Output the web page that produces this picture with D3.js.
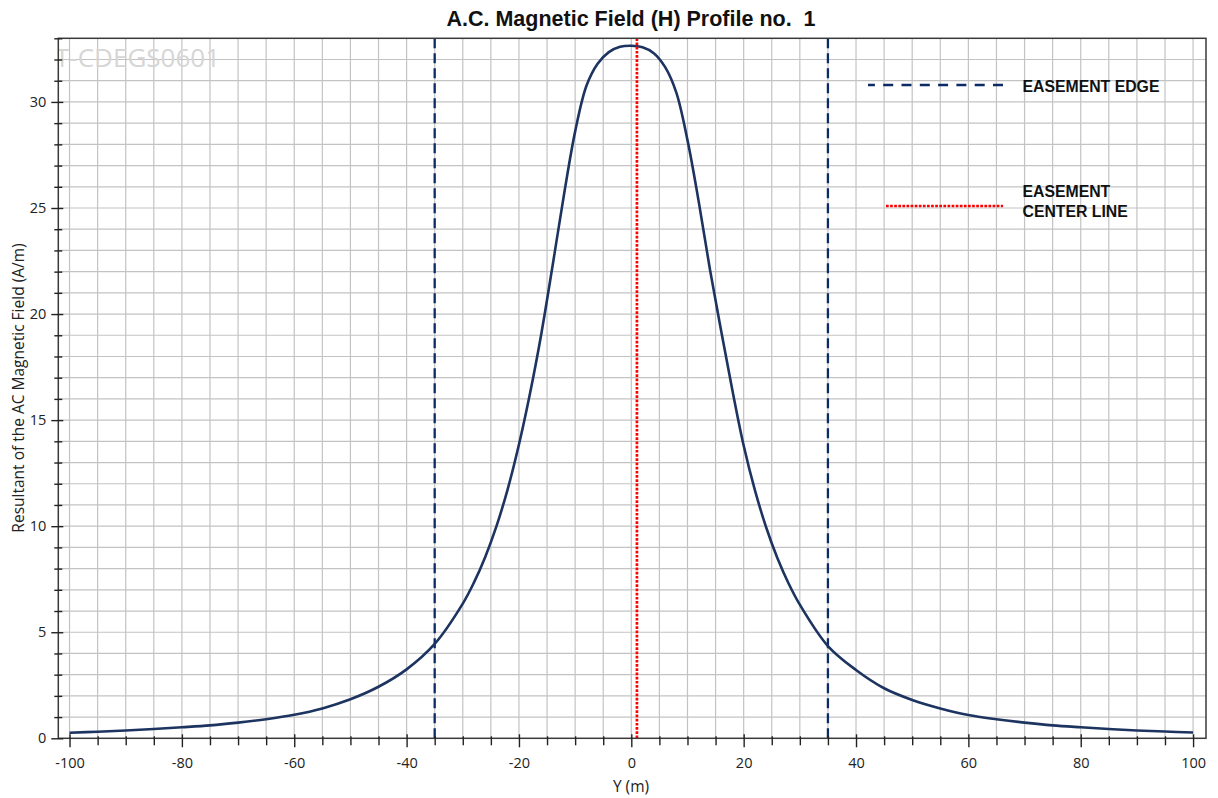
<!DOCTYPE html>
<html><head><meta charset="utf-8">
<script src="https://cdn.jsdelivr.net/npm/d3@7"></script>
<style>body{margin:0;background:#fff}</style>
</head><body><svg id="c" width="1218" height="798"></svg>
<script>
// ---- data ----
const yPositions = [-100,-95,-90,-85,-80,-75,-70,-65,-60,-55,-50,-45,-40,-35,-30,-28,-26,-24,-22,-20,-18,-16,-14,-12,-10,-8,-6,-4,-2,0,2,4,6,8,10,12,14,16,18,20,22,24,26,28,30,35,40,45,50,55,60,65,70,75,80,85,90,95,100];
const fieldH = [0.26,0.31,0.37,0.44,0.52,0.61,0.74,0.90,1.11,1.41,1.84,2.43,3.25,4.45,6.35,7.35,8.55,10.0,11.75,13.85,16.3,19.1,22.3,25.6,28.6,30.75,31.8,32.35,32.6,32.65,32.58,32.3,31.65,30.45,28.2,25.3,22.1,19.2,16.4,13.8,11.7,9.95,8.5,7.3,6.3,4.35,3.22,2.36,1.81,1.41,1.10,0.90,0.74,0.61,0.52,0.44,0.37,0.32,0.27];
const xTickLabels = [-100,-80,-60,-40,-20,0,20,40,60,80,100];
const yTickLabels = [0,5,10,15,20,25,30];
const easementEdges = [-35, 35];
const easementCenter = [1];
const titleText = "A.C. Magnetic Field (H) Profile no.  1";
const xLabel = "Y (m)";
const yLabel = "Resultant of the AC Magnetic Field (A/m)";
const watermark = "T-CDEGS0601";
const legendItems = [
  {lines:["EASEMENT EDGE"], kind:"edge"},
  {lines:["EASEMENT","CENTER LINE"], kind:"center"}
];

// ---- layout ----
const L = 58.3, R = 1206, T = 38.3, B = 738.3;
const svg = d3.select("#c");
const x = d3.scaleLinear().domain([-102, 102.3]).range([L, R]);
const y = d3.scaleLinear().domain([0, 33]).range([B, T]);
const navy = "#1d3461", edgeCol = "#0b2a66", red = "#ff0000";
const tickFont = "'Open Sans', 'Noto Sans', sans-serif";

svg.append("defs").append("clipPath").attr("id","plot")
  .append("rect").attr("x",L).attr("y",T).attr("width",R-L).attr("height",B-T);

// grid
const xGrid = d3.range(-100, 101, 5);
const yGrid = d3.range(1, 33, 1);
const g = svg.append("g");
g.selectAll(".vg").data(xGrid).join("line")
  .attr("x1",d=>x(d)).attr("x2",d=>x(d)).attr("y1",T).attr("y2",B)
  .attr("stroke","#c3c3c3").attr("stroke-width",1.2);
g.selectAll(".hg").data(yGrid).join("line")
  .attr("x1",L).attr("x2",R).attr("y1",d=>y(d)).attr("y2",d=>y(d))
  .attr("stroke","#c3c3c3").attr("stroke-width",1.2);

// watermark
svg.append("text").attr("clip-path","url(#plot)")
  .attr("x",55).attr("y",67).attr("font-family",tickFont).attr("font-size",26)
  .attr("fill","#d6d6d6").text(watermark);

// easement edges
svg.append("g").selectAll("line").data(easementEdges).join("line")
  .attr("x1",d=>x(d)).attr("x2",d=>x(d)).attr("y1",T).attr("y2",B)
  .attr("stroke",edgeCol).attr("stroke-width",2.3).attr("stroke-dasharray","10,5");

// curve
const line = d3.line().x((d,i)=>x(yPositions[i])).y(d=>y(d)).curve(d3.curveCatmullRom.alpha(0.5));
svg.append("path").datum(fieldH).attr("clip-path","url(#plot)")
  .attr("d",line).attr("fill","none").attr("stroke",navy).attr("stroke-width",2.6);

// center line
svg.append("g").selectAll("line").data(easementCenter).join("line")
  .attr("x1",d=>x(d)).attr("x2",d=>x(d)).attr("y1",T).attr("y2",B)
  .attr("stroke",red).attr("stroke-width",2.7).attr("stroke-dasharray","2.7,1.5");

// frame
svg.append("rect").attr("x",L).attr("y",T).attr("width",R-L).attr("height",B-T)
  .attr("fill","none").attr("stroke","#3a3a3a").attr("stroke-width",1.5);

// axes
const xMinor = d3.range(-100,101,5).filter(v=>v%20!==0);
const yMinor = d3.range(0,34,1).filter(v=>v%5!==0);
function styleAxis(sel){ sel.select(".domain").remove(); sel.selectAll("line").attr("stroke","#222").attr("stroke-width",1.4); }
const fmt = d => String(d);

const xa = svg.append("g").attr("transform",`translate(0,${B})`)
  .call(d3.axisBottom(x).tickValues(xTickLabels).tickSize(9).tickPadding(10).tickFormat(fmt));
styleAxis(xa); xa.selectAll("line").attr("y1",-4);
xa.selectAll("text").attr("font-family",tickFont).attr("font-size",14.5).attr("fill","#222");
const xm = svg.append("g").attr("transform",`translate(0,${B})`)
  .call(d3.axisBottom(x).tickValues(xMinor).tickSize(7).tickFormat(""));
styleAxis(xm); xm.selectAll("line").attr("y1",-2);

const ya = svg.append("g").attr("transform",`translate(${L},0)`)
  .call(d3.axisLeft(y).tickValues(yTickLabels).tickSize(7).tickPadding(5).tickFormat(fmt));
styleAxis(ya); ya.selectAll("line").attr("x1",5);
ya.selectAll("text").attr("font-family",tickFont).attr("font-size",14.5).attr("fill","#222");
const ym = svg.append("g").attr("transform",`translate(${L},0)`)
  .call(d3.axisLeft(y).tickValues(yMinor).tickSize(4).tickFormat(""));
styleAxis(ym); ym.selectAll("line").attr("x1",4);

// titles
svg.append("text").attr("x",631).attr("y",26).attr("text-anchor","middle")
  .attr("font-family","'Liberation Sans', Arial, sans-serif").attr("font-weight","bold")
  .attr("font-size",21.5).attr("fill","#111").style("white-space","pre").text(titleText);
svg.append("text").attr("x",631).attr("y",792).attr("text-anchor","middle")
  .attr("font-family",tickFont).attr("font-size",15.5).attr("fill","#222").text(xLabel);
svg.append("text").attr("transform","translate(24,388) rotate(-90)").attr("text-anchor","middle")
  .attr("font-family",tickFont).attr("font-size",15.5).attr("fill","#222").text(yLabel);

// legend
const legFont = "'Liberation Sans', Arial, sans-serif";
const lg = svg.append("g");
lg.append("line").attr("x1",1003).attr("x2",868).attr("y1",85).attr("y2",85)
  .attr("stroke",edgeCol).attr("stroke-width",2.5).attr("stroke-dasharray","10,8.3");
lg.append("line").attr("x1",886).attr("x2",1003).attr("y1",206).attr("y2",206)
  .attr("stroke",red).attr("stroke-width",2.7).attr("stroke-dasharray","2.7,1.4");
const legY = [[92],[197,216.5]];
legendItems.forEach((it,i)=>{
  it.lines.forEach((t,j)=>{
    lg.append("text").attr("x",1022.5).attr("y",legY[i][j])
      .attr("font-family",legFont).attr("font-weight","bold").attr("font-size",15.8)
      .attr("fill","#111").text(t);
  });
});
</script></body></html>
